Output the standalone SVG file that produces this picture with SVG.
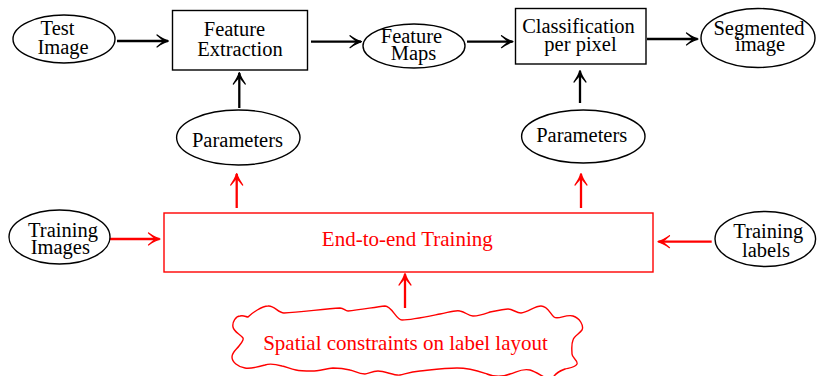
<svg xmlns="http://www.w3.org/2000/svg" width="817" height="376" viewBox="0 0 817 376">
<style>
  .t { font-family: "Liberation Serif", "Times New Roman", serif; font-size: 20.5px; fill: #000; text-anchor: middle; }
  .r { font-family: "Liberation Serif", "Times New Roman", serif; font-size: 21px; fill: #ff0000; text-anchor: middle; }
  .sh { fill: #fff; stroke: #000; stroke-width: 1.4; }
  .rs { fill: #fff; stroke: #ff0000; stroke-width: 1.4; }
  .ab { fill: none; stroke: #000; stroke-width: 2.3; }
  .ar { fill: none; stroke: #ff0000; stroke-width: 2.3; }
</style>
<defs>
  <marker id="hb" viewBox="-13 -8 16 16" refX="0" refY="0" markerWidth="16" markerHeight="16" markerUnits="userSpaceOnUse" orient="auto">
    <path d="M-11,-6 Q-4.5,-1.4 0.5,0 Q-4.5,1.4 -11,6 Q-5,1 -4,0 Q-5,-1 -11,-6 Z" fill="#000" stroke="#000" stroke-width="1.2" stroke-linejoin="round"/>
  </marker>
  <marker id="hr" viewBox="-13 -8 16 16" refX="0" refY="0" markerWidth="16" markerHeight="16" markerUnits="userSpaceOnUse" orient="auto">
    <path d="M-11,-6 Q-4.5,-1.4 0.5,0 Q-4.5,1.4 -11,6 Q-5,1 -4,0 Q-5,-1 -11,-6 Z" fill="#ff0000" stroke="#ff0000" stroke-width="1.2" stroke-linejoin="round"/>
  </marker>
</defs>
<rect width="817" height="376" fill="#fff"/>

<g id="connectors">
  <line class="ab" x1="117" y1="41" x2="168" y2="41" marker-end="url(#hb)"/>
  <line class="ab" x1="311" y1="41.7" x2="361" y2="41.7" marker-end="url(#hb)"/>
  <line class="ab" x1="467" y1="41.7" x2="512.5" y2="41.7" marker-end="url(#hb)"/>
  <line class="ab" x1="647" y1="39" x2="697.5" y2="39" marker-end="url(#hb)"/>
  <line class="ab" x1="239.3" y1="108" x2="239.3" y2="73" marker-end="url(#hb)"/>
  <line class="ab" x1="580" y1="103" x2="580" y2="71" marker-end="url(#hb)"/>
  <line class="ar" x1="236.7" y1="208" x2="236.7" y2="174" marker-end="url(#hr)"/>
  <line class="ar" x1="581" y1="208" x2="581" y2="174" marker-end="url(#hr)"/>
  <line class="ar" x1="110" y1="239" x2="159.5" y2="239" marker-end="url(#hr)"/>
  <line class="ar" x1="711.7" y1="241.7" x2="658.5" y2="241.7" marker-end="url(#hr)"/>
  <line class="ar" x1="405" y1="308" x2="405" y2="274" marker-end="url(#hr)"/>
</g>

<g id="test-image">
  <ellipse class="sh" cx="64" cy="39" rx="51" ry="24"/>
  <text class="t" x="57.5" y="35">Test</text>
  <text class="t" x="63" y="53.5">Image</text>
</g>

<g id="feature-extraction">
  <rect class="sh" x="172.5" y="10.5" width="135" height="59.5"/>
  <text class="t" x="234.5" y="36">Feature</text>
  <text class="t" x="240" y="56">Extraction</text>
</g>

<g id="feature-maps">
  <ellipse class="sh" cx="414" cy="46" rx="51" ry="22"/>
  <text class="t" x="411.5" y="42.5">Feature</text>
  <text class="t" x="413.5" y="60">Maps</text>
</g>

<g id="classification">
  <rect class="sh" x="515.5" y="8.5" width="130.5" height="55.5"/>
  <text class="t" x="578.5" y="33.3">Classification</text>
  <text class="t" x="580.5" y="50.5">per pixel</text>
</g>

<g id="segmented-image">
  <ellipse class="sh" cx="758" cy="38" rx="57" ry="29.5"/>
  <text class="t" x="759" y="35">Segmented</text>
  <text class="t" x="760" y="51">image</text>
</g>

<g id="parameters-1">
  <ellipse class="sh" cx="238.3" cy="137.5" rx="61.7" ry="27.5"/>
  <text class="t" x="237.5" y="146.7">Parameters</text>
</g>

<g id="parameters-2">
  <ellipse class="sh" cx="583.3" cy="136.5" rx="61.7" ry="26.5"/>
  <text class="t" x="581.7" y="141.7">Parameters</text>
</g>

<g id="training-images">
  <ellipse class="sh" cx="59.5" cy="237" rx="50.5" ry="27"/>
  <text class="t" x="63" y="236.7">Training</text>
  <text class="t" x="60.3" y="253.5">Images</text>
</g>

<g id="end-to-end-training">
  <rect class="rs" x="164" y="213" width="489" height="59"/>
  <text class="r" x="407.3" y="246">End-to-end Training</text>
</g>

<g id="training-labels">
  <ellipse class="sh" cx="765.3" cy="239" rx="50.3" ry="27.5"/>
  <text class="t" x="768.3" y="238.3">Training</text>
  <text class="t" x="766" y="256.7">labels</text>
</g>

<g id="spatial-constraints">
  <path class="rs" d="M248,317
    C252,313 262,306 268,306
    C274,305 278,313 284,313
    C300,312 325,309 340,308
    C344,308 345,311 348,311
    C360,310 375,307 385,306
    C392,306 396,320 402,320
    C412,320 430,316 440,314
    C450,312 455,310 460,311
    C466,312 468,316 473,316
    C480,316 487,313 490,312
    C500,310 505,309 508,309
    C513,309 516,313 521,313
    C528,312 535,306 541,306
    C548,306 550,314 554,317
    C558,320 566,314 573,316
    C580,318 584,326 582,330
    C579,334 574,336 573,340
    C571,345 572,350 572,354
    C572,358 578,360 577,364
    C575,368 568,368 565,369
    C560,371 555,373 553,378
    C548,382 540,373 530,370
    C522,368 517,372 510,374
    C500,378 492,376 487,374
    C478,371 470,368 457,368
    C445,368 430,370 420,371
    C410,372 405,374 400,375
    C395,376 385,371 378,371
    C372,371 368,374 365,374
    C358,374 355,371 350,370
    C342,368 337,368 333,368
    C325,369 318,371 312,371
    C305,371 300,371 296,370
    C290,369 285,366 282,366
    C275,364 270,363 265,365
    C258,367 250,369 245,368
    C238,367 232,362 232,357
    C232,352 237,349 239,346
    C242,342 244,340 243,338
    C240,334 234,332 233,327
    C232,322 236,316 240,316
    C244,315 246,317 248,317 Z"/>
  <text class="r" x="405.5" y="350">Spatial constraints on label layout</text>
</g>
</svg>
